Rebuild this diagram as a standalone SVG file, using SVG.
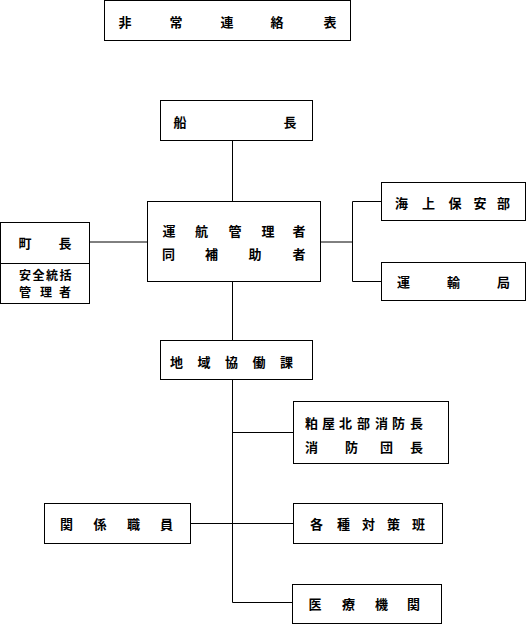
<svg xmlns="http://www.w3.org/2000/svg" width="526" height="624" viewBox="0 0 526 624">
<style>
rect{fill:#fff;stroke:#000;stroke-width:1}
line,path{stroke:#000;stroke-width:1;fill:none}
text{font-family:"Noto Sans CJK JP","Noto Sans CJK SC",sans-serif;font-size:13px;fill:#000;text-anchor:middle;dominant-baseline:central;font-weight:bold}
text.sm{font-size:12px}
</style>
<rect width="526" height="624" style="stroke:none"/>
<g id="connectors">
<line x1="232.5" y1="140.5" x2="232.5" y2="201.5"/>
<line x1="89.5" y1="242" x2="147.5" y2="242"/>
<line x1="320.5" y1="242" x2="352.5" y2="242"/>
<path d="M381.5 201.5H352.5V281.5H381.5"/>
<line x1="232.5" y1="281.5" x2="232.5" y2="340.5"/>
<line x1="232.5" y1="379.5" x2="232.5" y2="602.5"/>
<line x1="232.5" y1="432.5" x2="293.5" y2="432.5"/>
<line x1="190.5" y1="523.5" x2="293.5" y2="523.5"/>
<line x1="232.5" y1="602.5" x2="292.5" y2="602.5"/>
</g>
<g id="title">
<rect x="104.5" y="0.5" width="246" height="40"/>
<text x="125 176 227 277 330" y="21">非常連絡表</text>
</g>
<g id="captain">
<rect x="160.5" y="100.5" width="152" height="40"/>
<text x="180 290" y="121.5">船長</text>
</g>
<g id="town">
<rect x="0.5" y="222.5" width="89" height="81"/>
<line x1="0.5" y1="263.5" x2="89.5" y2="263.5"/>
<text x="25 65" y="242.5">町長</text>
<text class="sm" x="25 38.5 52 65.5" y="274.5">安全統括</text>
<text class="sm" x="25 46 65" y="291">管理者</text>
</g>
<g id="manager">
<rect x="147.5" y="201.5" width="173" height="80"/>
<text x="169 201.5 235 268 299" y="230.5">運航管理者</text>
<text x="168.5 211.5 255 299" y="253.5">同補助者</text>
</g>
<g id="coastguard">
<rect x="381.5" y="182.5" width="144" height="38"/>
<text x="401.5 428.5 455 480 503.5" y="202">海上保安部</text>
</g>
<g id="transport">
<rect x="381.5" y="262.5" width="144" height="38"/>
<text x="403.5 453.5 503.5" y="281.5">運輸局</text>
</g>
<g id="regional">
<rect x="160.5" y="340.5" width="152" height="39"/>
<text x="176.5 204 231.5 259 286.5" y="361">地域協働課</text>
</g>
<g id="fire">
<rect x="293.5" y="401.5" width="155" height="62"/>
<text x="311.5 328.5 345.5 363.5 381.5 398.5 416.5" y="422">粕屋北部消防長</text>
<text x="311.5 351.5 386.5 416.5" y="446.5">消防団長</text>
</g>
<g id="staff">
<rect x="44.5" y="503.5" width="146" height="40"/>
<text x="66.5 100 133.5 166.5" y="523.5">関係職員</text>
</g>
<g id="teams">
<rect x="293.5" y="503.5" width="149" height="40"/>
<text x="316.5 343.5 368.5 393.5 418.5" y="523.5">各種対策班</text>
</g>
<g id="medical">
<rect x="292.5" y="584.5" width="149" height="39"/>
<text x="315 348.5 381.5 413.5" y="603.5">医療機関</text>
</g>
</svg>
